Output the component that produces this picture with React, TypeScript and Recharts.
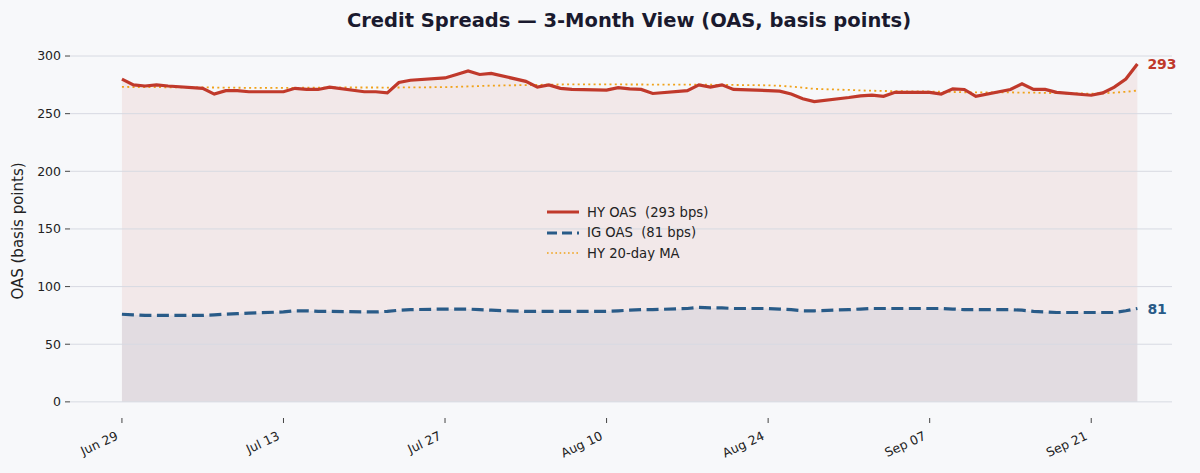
import React from 'react';
import { ComposedChart, Area, Line, XAxis, YAxis, ReferenceLine, Legend } from 'recharts';

const FONT = "'DejaVu Sans', sans-serif";
const YEAR = 2026;

const DATES = [
  '06-29', '06-30', '07-01', '07-02', '07-03',
  '07-06', '07-07', '07-08', '07-09', '07-10',
  '07-13', '07-14', '07-15', '07-16', '07-17',
  '07-20', '07-21', '07-22', '07-23', '07-24',
  '07-27', '07-28', '07-29', '07-30', '07-31',
  '08-03', '08-04', '08-05', '08-06', '08-07',
  '08-10', '08-11', '08-12', '08-13', '08-14',
  '08-17', '08-18', '08-19', '08-20', '08-21',
  '08-24', '08-25', '08-26', '08-27', '08-28',
  '08-31', '09-01', '09-02', '09-03', '09-04',
  '09-07', '09-08', '09-09', '09-10', '09-11',
  '09-14', '09-15', '09-16', '09-17', '09-18',
  '09-21', '09-22', '09-23', '09-24', '09-25',
];

const HY_OAS = [
  280, 275, 274, 275, 274,
  272, 267, 270, 270, 269,
  269, 272, 271, 271, 273,
  269, 269, 268, 277, 279,
  281, 284, 287, 284, 285,
  278, 273, 275, 272, 271,
  270.5, 272.5, 271.5, 271, 267.5,
  270, 275, 273, 275, 271,
  270, 269.5, 267, 263, 260.5,
  264, 265.5, 266, 265, 268.5,
  268.5, 267, 271.5, 271, 265,
  271, 276, 271, 271, 268.5,
  266, 268, 273, 280, 293,
];

const IG_OAS = [
  76, 75.5, 75, 75, 75,
  75, 75.5, 76, 76.5, 77,
  78, 79, 79, 78.5, 78.5,
  78, 78, 78.5, 79.5, 80,
  80.5, 80.5, 80.5, 80, 79.5,
  78.5, 78.5, 78.5, 78.5, 78.5,
  78.5, 79, 79.5, 80, 80,
  81, 82, 81.5, 81.5, 81,
  81, 80.5, 80, 79, 79,
  80, 80.5, 81, 81, 81,
  81, 81, 80.5, 80, 80,
  80, 79.5, 78.5, 78, 77.5,
  77.5, 77.5, 77.5, 79, 81,
];

const HY_MA20 = [
  273.2, 273.1, 273.0, 273.0, 272.9,
  272.8, 272.7, 272.6, 272.5, 272.4,
  272.4, 272.4, 272.5, 272.6, 272.7,
  272.7, 272.7, 272.6, 272.7, 272.8,
  273.0, 273.3, 273.6, 274.0, 274.3,
  274.8, 275.0, 275.2, 275.3, 275.4,
  275.4, 275.4, 275.3, 275.3, 275.2,
  275.2, 275.2, 275.1, 275.0, 274.9,
  274.6, 274.2, 273.5, 272.5, 271.5,
  270.6, 270.2, 269.9, 269.7, 269.5,
  269.2, 269.0, 268.8, 268.6, 268.5,
  268.4, 268.3, 268.2, 268.0, 267.8,
  267.4, 267.6, 268.2, 269.0, 270.0,
];

const X_TICK_DATES = ['06-29', '07-13', '07-27', '08-10', '08-24', '09-07', '09-21'];
const X_TICK_LABELS = ['Jun 29', 'Jul 13', 'Jul 27', 'Aug 10', 'Aug 24', 'Sep 07', 'Sep 21'];
const Y_TICKS = [0, 50, 100, 150, 200, 250, 300];

const HY_COLOR = '#c0392b';
const IG_COLOR = '#295b88';
const MA_COLOR = '#f0a21a';

const dayOf = (md: string) => {
  const [m, d] = md.split('-').map(Number);
  return Math.round((Date.UTC(YEAR, m - 1, d) - Date.UTC(YEAR, 5, 29)) / 86400000);
};

const data = DATES.map((d, i) => ({ day: dayOf(d), hy: HY_OAS[i], ig: IG_OAS[i], ma: HY_MA20[i] }));
const X_TICKS = X_TICK_DATES.map(dayOf);
const LAST = data.length - 1;

const XTick = (props: any) => {
  const { x, y, payload } = props;
  const idx = X_TICKS.indexOf(payload.value);
  const ax = x - 3;
  const ay = y + 16;
  return (
    <text x={ax} y={ay} textAnchor="end" transform={`rotate(-25, ${ax}, ${ay})`} fill="#222" fontSize={12.5} fontFamily={FONT}>
      {X_TICK_LABELS[idx]}
    </text>
  );
};

const makeEndLabel = (color: string) => (props: any) => {
  const { x, y, index, value } = props;
  if (index !== LAST) return <g key={`l-${index}`} />;
  return (
    <text key={`l-${index}`} x={x + 10} y={y} dy="0.36em" fill={color} fontWeight="bold" fontSize={14} fontFamily={FONT}>
      {value}
    </text>
  );
};

const LEGEND_ITEMS = [
  { label: `HY OAS  (${HY_OAS[LAST]} bps)`, color: HY_COLOR, width: 3, dash: undefined },
  { label: `IG OAS  (${IG_OAS[LAST]} bps)`, color: IG_COLOR, width: 3, dash: '10 5' },
  { label: 'HY 20-day MA', color: MA_COLOR, width: 1.6, dash: '1.6 2.6' },
];

const LegendContent = () => (
  <div style={{ fontFamily: FONT, fontSize: 13.2, color: '#222' }}>
    {LEGEND_ITEMS.map((it) => (
      <div key={it.label} style={{ display: 'flex', alignItems: 'center', height: 20.5 }}>
        <svg width={34} height={10} style={{ display: 'block' }}>
          <line x1={1} x2={33} y1={5} y2={5} stroke={it.color} strokeWidth={it.width} strokeDasharray={it.dash} />
        </svg>
        <span style={{ marginLeft: 7, whiteSpace: 'pre' }}>{it.label}</span>
      </div>
    ))}
  </div>
);

export default function App() {
  return (
    <div style={{ position: 'absolute', left: 0, top: 0, width: 1200, height: 473, background: '#f7f8fa', overflow: 'hidden' }}>
      <div
        style={{
          position: 'absolute', left: 0, top: 8, width: 1258, height: 26, lineHeight: '26px',
          textAlign: 'center', fontFamily: FONT, fontWeight: 'bold', fontSize: 19.5, color: '#1a1a2e',
        }}
      >
        Credit Spreads — 3-Month View (OAS, basis points)
      </div>
      <ComposedChart width={1200} height={473} data={data} margin={{ top: 44.5, right: 28, bottom: 0, left: 0 }}>
        <XAxis
          dataKey="day" type="number" domain={[-4.5, 91]} ticks={X_TICKS} allowDataOverflow interval={0}
          height={55} axisLine={false} tickLine={{ stroke: '#444' }} tickSize={5} tickMargin={0}
          tick={(p: any) => <XTick {...p} />}
        />
        <YAxis
          type="number" domain={[-14, 310]} ticks={Y_TICKS} allowDataOverflow interval={0} width={70}
          axisLine={false} tickLine={{ stroke: '#444' }} tickSize={5} tickMargin={4}
          tick={{ fill: '#222', fontSize: 12.5, fontFamily: FONT }}
          label={() => (
            <text x={18} y={231} transform="rotate(-90, 18, 231)" textAnchor="middle" dominantBaseline="central" fill="#222" fontSize={15} fontFamily={FONT}>
              OAS (basis points)
            </text>
          )}
        />
        {Y_TICKS.map((v) => (
          <ReferenceLine key={`g-${v}`} y={v} stroke="#d7dae2" strokeWidth={1} />
        ))}
        <Area type="linear" dataKey="hy" baseValue={0} fill={HY_COLOR} fillOpacity={0.08} stroke="none" isAnimationActive={false} activeDot={false} />
        <Area type="linear" dataKey="ig" baseValue={0} fill={IG_COLOR} fillOpacity={0.08} stroke="none" isAnimationActive={false} activeDot={false} />
        <Line type="linear" dataKey="ma" stroke={MA_COLOR} strokeWidth={1.8} strokeDasharray="2 3.3" dot={false} activeDot={false} isAnimationActive={false} />
        <Line type="linear" dataKey="ig" stroke={IG_COLOR} strokeWidth={3.2} strokeDasharray="12 5.5" dot={false} activeDot={false} isAnimationActive={false} label={makeEndLabel(IG_COLOR)} />
        <Line type="linear" dataKey="hy" stroke={HY_COLOR} strokeWidth={3.2} dot={false} activeDot={false} isAnimationActive={false} label={makeEndLabel(HY_COLOR)} />
        <Legend
          layout="vertical" align="center" verticalAlign="middle"
          content={() => <LegendContent />}
          wrapperStyle={{ position: 'absolute', left: 546, top: 202, width: 240, height: 62 }}
        />
      </ComposedChart>
    </div>
  );
}
